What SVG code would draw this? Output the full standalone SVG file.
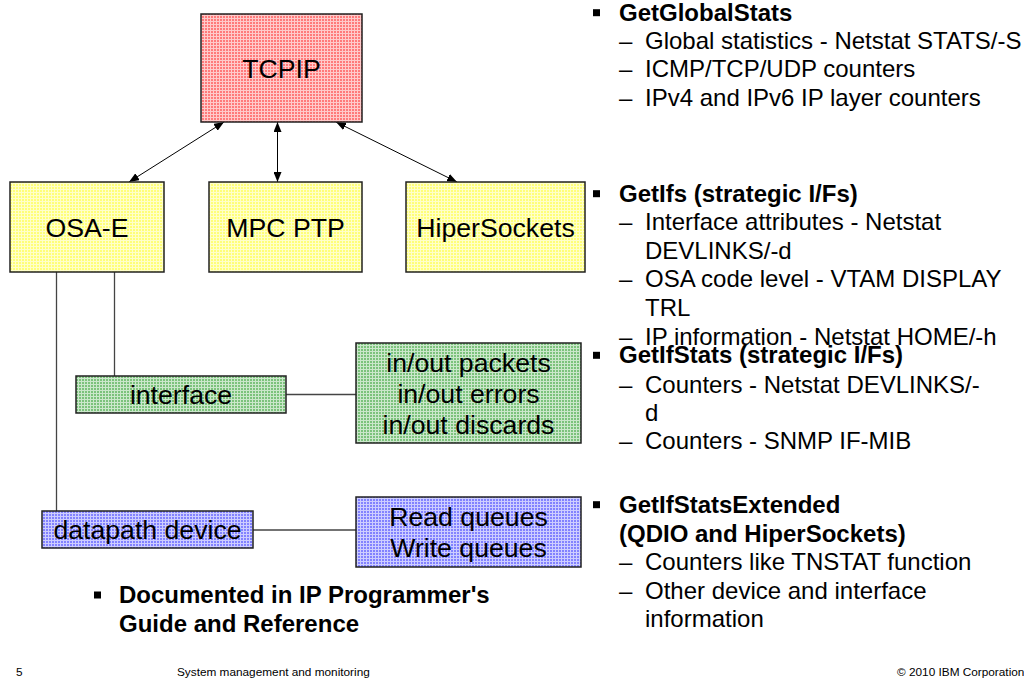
<svg xmlns="http://www.w3.org/2000/svg" width="1024" height="690" viewBox="0 0 1024 690">
<style>
  text { font-family: "Liberation Sans", Arial, sans-serif; fill: #000; }
  .lbl { font-size: 26.67px; text-anchor: middle; }
  .body { font-size: 24px; }
  .b { font-weight: bold; }
  .foot { font-size: 11.8px; }
  .box { stroke: #222; stroke-width: 1.5; }
  .conn { stroke: #444; stroke-width: 1.3; fill: none; }
  .arrow { stroke: #000; stroke-width: 1; fill: none; marker-start: url(#ah); marker-end: url(#ah); }
  .bullet { fill: #000; }
</style>
<defs>
  <marker id="ah" viewBox="0 0 10 8" refX="10" refY="4" markerWidth="10" markerHeight="8" markerUnits="userSpaceOnUse" orient="auto-start-reverse">
    <path d="M0,0 L10,4 L0,8 z" fill="#000"/>
  </marker>
  <pattern id="pRed" width="3" height="3" patternUnits="userSpaceOnUse">
    <rect width="3" height="3" fill="#FF7A7A"/>
    <path d="M0,0.5H3M0.5,1V3" stroke="#fff" stroke-opacity="0.6" stroke-width="1" shape-rendering="crispEdges"/>
  </pattern>
  <pattern id="pYel" width="3" height="3" patternUnits="userSpaceOnUse">
    <rect width="3" height="3" fill="#FFFF78"/>
    <path d="M0,0.5H3M0.5,1V3" stroke="#fff" stroke-opacity="0.6" stroke-width="1" shape-rendering="crispEdges"/>
  </pattern>
  <pattern id="pGrn" width="3" height="3" patternUnits="userSpaceOnUse">
    <rect width="3" height="3" fill="#7CC27C"/>
    <path d="M0,0.5H3M0.5,1V3" stroke="#fff" stroke-opacity="0.6" stroke-width="1" shape-rendering="crispEdges"/>
  </pattern>
  <pattern id="pBlu" width="3" height="3" patternUnits="userSpaceOnUse">
    <rect width="3" height="3" fill="#8282FF"/>
    <path d="M0,0.5H3M0.5,1V3" stroke="#fff" stroke-opacity="0.6" stroke-width="1" shape-rendering="crispEdges"/>
  </pattern>
</defs>

<g id="connectors">
  <line class="arrow" x1="224" y1="122" x2="129" y2="182"/>
  <line class="arrow" x1="277.5" y1="122" x2="277.5" y2="182"/>
  <line class="arrow" x1="336" y1="122" x2="457" y2="182"/>
  <line class="conn" x1="56.5" y1="272" x2="56.5" y2="511"/>
  <line class="conn" x1="114.5" y1="272" x2="114.5" y2="376"/>
  <line class="conn" x1="286" y1="394.5" x2="356" y2="394.5"/>
  <line class="conn" x1="253" y1="530" x2="356" y2="530"/>
</g>

<g id="tcpip">
  <rect class="box" x="201" y="14" width="161" height="108" fill="url(#pRed)"/>
  <text class="lbl" x="281.5" y="78">TCPIP</text>
</g>
<g id="osa-e">
  <rect class="box" x="10" y="182" width="154" height="90" fill="url(#pYel)"/>
  <text class="lbl" x="87" y="237">OSA-E</text>
</g>
<g id="mpc-ptp">
  <rect class="box" x="209" y="182" width="153" height="90" fill="url(#pYel)"/>
  <text class="lbl" x="285.5" y="237">MPC PTP</text>
</g>
<g id="hipersockets">
  <rect class="box" x="406" y="182" width="179" height="90" fill="url(#pYel)"/>
  <text class="lbl" x="495.5" y="237">HiperSockets</text>
</g>
<g id="interface">
  <rect class="box" x="76" y="376" width="210" height="37" fill="url(#pGrn)"/>
  <text class="lbl" x="181" y="404">interface</text>
</g>
<g id="inout">
  <rect class="box" x="356" y="343" width="225" height="100" fill="url(#pGrn)"/>
  <text class="lbl" x="468.5" y="371.5">in/out packets</text>
  <text class="lbl" x="468.5" y="402.7">in/out errors</text>
  <text class="lbl" x="468.5" y="434">in/out discards</text>
</g>
<g id="datapath">
  <rect class="box" x="42" y="511" width="211" height="37" fill="url(#pBlu)"/>
  <text class="lbl" x="147.5" y="538.5">datapath device</text>
</g>
<g id="queues">
  <rect class="box" x="356" y="497" width="225" height="70" fill="url(#pBlu)"/>
  <text class="lbl" x="468.5" y="526">Read queues</text>
  <text class="lbl" x="468.5" y="557">Write queues</text>
</g>

<g id="documented">
  <rect class="bullet" x="94" y="591.5" width="7" height="7"/>
  <text class="body b" x="119" y="603">Documented in IP Programmer's</text>
  <text class="body b" x="119" y="631.7">Guide and Reference</text>
</g>

<g id="notes">
  <rect class="bullet" x="593" y="9.2" width="7" height="7"/>
  <text class="body b" x="619" y="20.7">GetGlobalStats</text>
  <text class="body" x="619" y="48.5">–</text><text class="body" x="645" y="48.5">Global statistics - Netstat STATS/-S</text>
  <text class="body" x="619" y="77.3">–</text><text class="body" x="645" y="77.3">ICMP/TCP/UDP counters</text>
  <text class="body" x="619" y="106">–</text><text class="body" x="645" y="106">IPv4 and IPv6 IP layer counters</text>

  <rect class="bullet" x="593" y="190.2" width="7" height="7"/>
  <text class="body b" x="619" y="201.7">GetIfs (strategic I/Fs)</text>
  <text class="body" x="619" y="230.3">–</text><text class="body" x="645" y="230.3">Interface attributes - Netstat</text>
  <text class="body" x="645" y="258.7">DEVLINKS/-d</text>
  <text class="body" x="619" y="287.4">–</text><text class="body" x="645" y="287.4">OSA code level - VTAM DISPLAY</text>
  <text class="body" x="645" y="315.5">TRL</text>
  <text class="body" x="619" y="345">–</text><text class="body" x="645" y="345">IP information - Netstat HOME/-h</text>

  <rect class="bullet" x="593" y="351.8" width="7" height="7"/>
  <text class="body b" x="619" y="363.3">GetIfStats (strategic I/Fs)</text>
  <text class="body" x="619" y="392.5">–</text><text class="body" x="645" y="392.5">Counters - Netstat DEVLINKS/-</text>
  <text class="body" x="645" y="421">d</text>
  <text class="body" x="619" y="449.4">–</text><text class="body" x="645" y="449.4">Counters - SNMP IF-MIB</text>

  <rect class="bullet" x="593" y="501.2" width="7" height="7"/>
  <text class="body b" x="619" y="512.7">GetIfStatsExtended</text>
  <text class="body b" x="619" y="541.5">(QDIO and HiperSockets)</text>
  <text class="body" x="619" y="570">–</text><text class="body" x="645" y="570">Counters like TNSTAT function</text>
  <text class="body" x="619" y="598.5">–</text><text class="body" x="645" y="598.5">Other device and interface</text>
  <text class="body" x="645" y="627">information</text>
</g>

<g id="footer">
  <text class="foot" x="16" y="676">5</text>
  <text class="foot" x="177" y="676">System management and monitoring</text>
  <text class="foot" x="897" y="676">© 2010 IBM Corporation</text>
</g>
</svg>
